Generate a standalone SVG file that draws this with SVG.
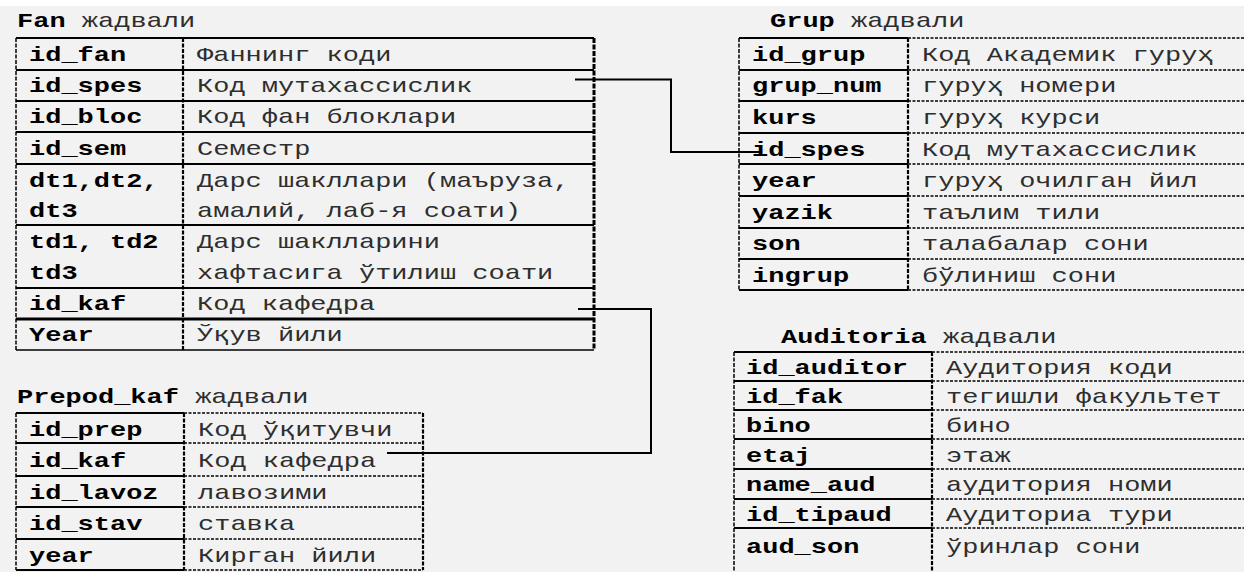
<svg xmlns="http://www.w3.org/2000/svg" width="1244" height="572" viewBox="0 0 1244 572">
<style>
text{font-family:"Liberation Mono","Courier New",monospace;font-size:20px;fill:#2e2e2e}
.b{font-weight:bold;fill:#000}
.h{stroke:#000;stroke-width:2;fill:none}
.ht{stroke:#000;stroke-width:3;fill:none}
.hd{stroke:#000;stroke-width:1.5;stroke-dasharray:3 1.5;fill:none}
.vl{stroke:#000;stroke-width:1.5;stroke-dasharray:4 1.5;fill:none}
.vd{stroke:#000;stroke-width:2.2;stroke-dasharray:4 1.5;fill:none}
.vr{stroke:#000;stroke-width:3;stroke-dasharray:5 1.5;fill:none}
.c{stroke:#000;stroke-width:2;fill:none}
</style>
<rect x="0" y="0" width="1244" height="572" fill="#f2f2f2"/>
<rect x="0" y="0" width="1244" height="6" fill="#ffffff"/>

<g id="fan">
<text transform="matrix(1.35 0 0 1 17 27)"><tspan class="b">Fan</tspan> жадвали</text>
<path class="h" d="M16,38H594M16,70H594M16,101H594M16,132H594M16,164H594M16,225H594M16,288H594"/>
<path class="ht" d="M16,319H594"/>
<path class="h" d="M16,350H594" style="stroke-width:1.5"/>
<path class="vl" d="M16,38V350"/>
<path class="vd" d="M183,38V350"/>
<path class="vr" d="M594,38V350"/>
<text class="b" transform="matrix(1.35 0 0 1 29 61)">id_fan</text>
<text transform="matrix(1.35 0 0 1 197 61)">Фаннинг коди</text>
<text class="b" transform="matrix(1.35 0 0 1 29 92)">id_spes</text>
<text transform="matrix(1.35 0 0 1 197 92)">Код мутахассислик</text>
<text class="b" transform="matrix(1.35 0 0 1 29 123)">id_bloc</text>
<text transform="matrix(1.35 0 0 1 197 123)">Код фан блоклари</text>
<text class="b" transform="matrix(1.35 0 0 1 29 155)">id_sem</text>
<text transform="matrix(1.35 0 0 1 197 155)">Семестр</text>
<text class="b" transform="matrix(1.35 0 0 1 29 187)">dt1,dt2,<tspan x="0" dy="30">dt3</tspan></text>
<text transform="matrix(1.35 0 0 1 197 187)">Дарс шакллари (маъруза,<tspan x="0" dy="30">амалий, лаб-я соати)</tspan></text>
<text class="b" transform="matrix(1.35 0 0 1 29 248)">td1, td2<tspan x="0" dy="31">td3</tspan></text>
<text transform="matrix(1.35 0 0 1 197 248)">Дарс шаклларини<tspan x="0" dy="31">хафтасига ўтилиш соати</tspan></text>
<text class="b" transform="matrix(1.35 0 0 1 29 310)">id_kaf</text>
<text transform="matrix(1.35 0 0 1 197 310)">Код кафедра</text>
<text class="b" transform="matrix(1.35 0 0 1 29 341)">Year</text>
<text transform="matrix(1.35 0 0 1 197 341)">Ўқув йили</text>
</g>

<g id="grup">
<text transform="matrix(1.35 0 0 1 770 27)"><tspan class="b">Grup</tspan> жадвали</text>
<path class="h" d="M739,38H908M739,70H908M739,101H908M739,133H908M739,164H908M739,196H908M739,228H908M739,259H908M739,290H908"/>
<path class="hd" d="M908,38H1244M908,70H1244M908,101H1244M908,133H1244M908,164H1244M908,196H1244M908,228H1244M908,259H1244M908,290H1244"/>
<path class="vl" d="M739,38V290"/>
<path class="vd" d="M908,38V290"/>
<text class="b" transform="matrix(1.35 0 0 1 752 61)">id_grup</text>
<text transform="matrix(1.35 0 0 1 922 61)">Код Академик гуруҳ</text>
<text class="b" transform="matrix(1.35 0 0 1 752 92)">grup_num</text>
<text transform="matrix(1.35 0 0 1 922 92)">гуруҳ номери</text>
<text class="b" transform="matrix(1.35 0 0 1 752 124)">kurs</text>
<text transform="matrix(1.35 0 0 1 922 124)">гуруҳ курси</text>
<text class="b" transform="matrix(1.35 0 0 1 752 156)">id_spes</text>
<text transform="matrix(1.35 0 0 1 922 156)">Код мутахассислик</text>
<text class="b" transform="matrix(1.35 0 0 1 752 187)">year</text>
<text transform="matrix(1.35 0 0 1 922 187)">гуруҳ очилган йил</text>
<text class="b" transform="matrix(1.35 0 0 1 752 219)">yazik</text>
<text transform="matrix(1.35 0 0 1 922 219)">таълим тили</text>
<text class="b" transform="matrix(1.35 0 0 1 752 250)">son</text>
<text transform="matrix(1.35 0 0 1 922 250)">талабалар сони</text>
<text class="b" transform="matrix(1.35 0 0 1 752 282)">ingrup</text>
<text transform="matrix(1.35 0 0 1 922 282)">бўлиниш сони</text>
</g>

<g id="prepod_kaf">
<text transform="matrix(1.35 0 0 1 17 403)"><tspan class="b">Prepod_kaf</tspan> жадвали</text>
<path class="h" d="M16,413H184M16,443H184M16,476H184M16,507H184M16,539H184M16,570H184"/>
<path class="hd" d="M184,413H423M184,443H423M184,476H423M184,507H423M184,539H423M184,570H423"/>
<path class="vl" d="M16,413V570"/>
<path class="vd" d="M184,413V570"/>
<path class="vd" d="M423,413V570"/>
<text class="b" transform="matrix(1.35 0 0 1 29 436)">id_prep</text>
<text transform="matrix(1.35 0 0 1 198 436)">Код ўқитувчи</text>
<text class="b" transform="matrix(1.35 0 0 1 29 467)">id_kaf</text>
<text transform="matrix(1.35 0 0 1 198 467)">Код кафедра</text>
<text class="b" transform="matrix(1.35 0 0 1 29 499)">id_lavoz</text>
<text transform="matrix(1.35 0 0 1 198 499)">лавозими</text>
<text class="b" transform="matrix(1.35 0 0 1 29 530)">id_stav</text>
<text transform="matrix(1.35 0 0 1 198 530)">ставка</text>
<text class="b" transform="matrix(1.35 0 0 1 29 562)">year</text>
<text transform="matrix(1.35 0 0 1 198 562)">Кирган йили</text>
</g>

<g id="auditoria">
<text transform="matrix(1.35 0 0 1 781 343)"><tspan class="b">Auditoria</tspan> жадвали</text>
<path class="h" d="M734,352H932M734,381H932M734,410H932M734,439H932M734,469H932M734,499H932M734,528H932"/>
<path class="hd" d="M932,352H1244M932,381H1244M932,410H1244M932,439H1244M932,469H1244M932,499H1244M932,528H1244"/>
<path class="vl" d="M734,352V572"/>
<path class="vd" d="M932,352V572"/>
<text class="b" transform="matrix(1.35 0 0 1 746 374)">id_auditor</text>
<text transform="matrix(1.35 0 0 1 946 374)">Аудитория коди</text>
<text class="b" transform="matrix(1.35 0 0 1 746 403)">id_fak</text>
<text transform="matrix(1.35 0 0 1 946 403)">тегишли факультет</text>
<text class="b" transform="matrix(1.35 0 0 1 746 432)">bino</text>
<text transform="matrix(1.35 0 0 1 946 432)">бино</text>
<text class="b" transform="matrix(1.35 0 0 1 746 462)">etaj</text>
<text transform="matrix(1.35 0 0 1 946 462)">этаж</text>
<text class="b" transform="matrix(1.35 0 0 1 746 491)">name_aud</text>
<text transform="matrix(1.35 0 0 1 946 491)">аудитория номи</text>
<text class="b" transform="matrix(1.35 0 0 1 746 521)">id_tipaud</text>
<text transform="matrix(1.35 0 0 1 946 521)">Аудиториа тури</text>
<text class="b" transform="matrix(1.35 0 0 1 746 553)">aud_son</text>
<text transform="matrix(1.35 0 0 1 946 553)">ўринлар сони</text>
</g>

<g id="connectors">
<path class="c" d="M575,79.5H671V152H760"/>
<path class="c" d="M387,453H651V309H578"/>
</g>
</svg>
